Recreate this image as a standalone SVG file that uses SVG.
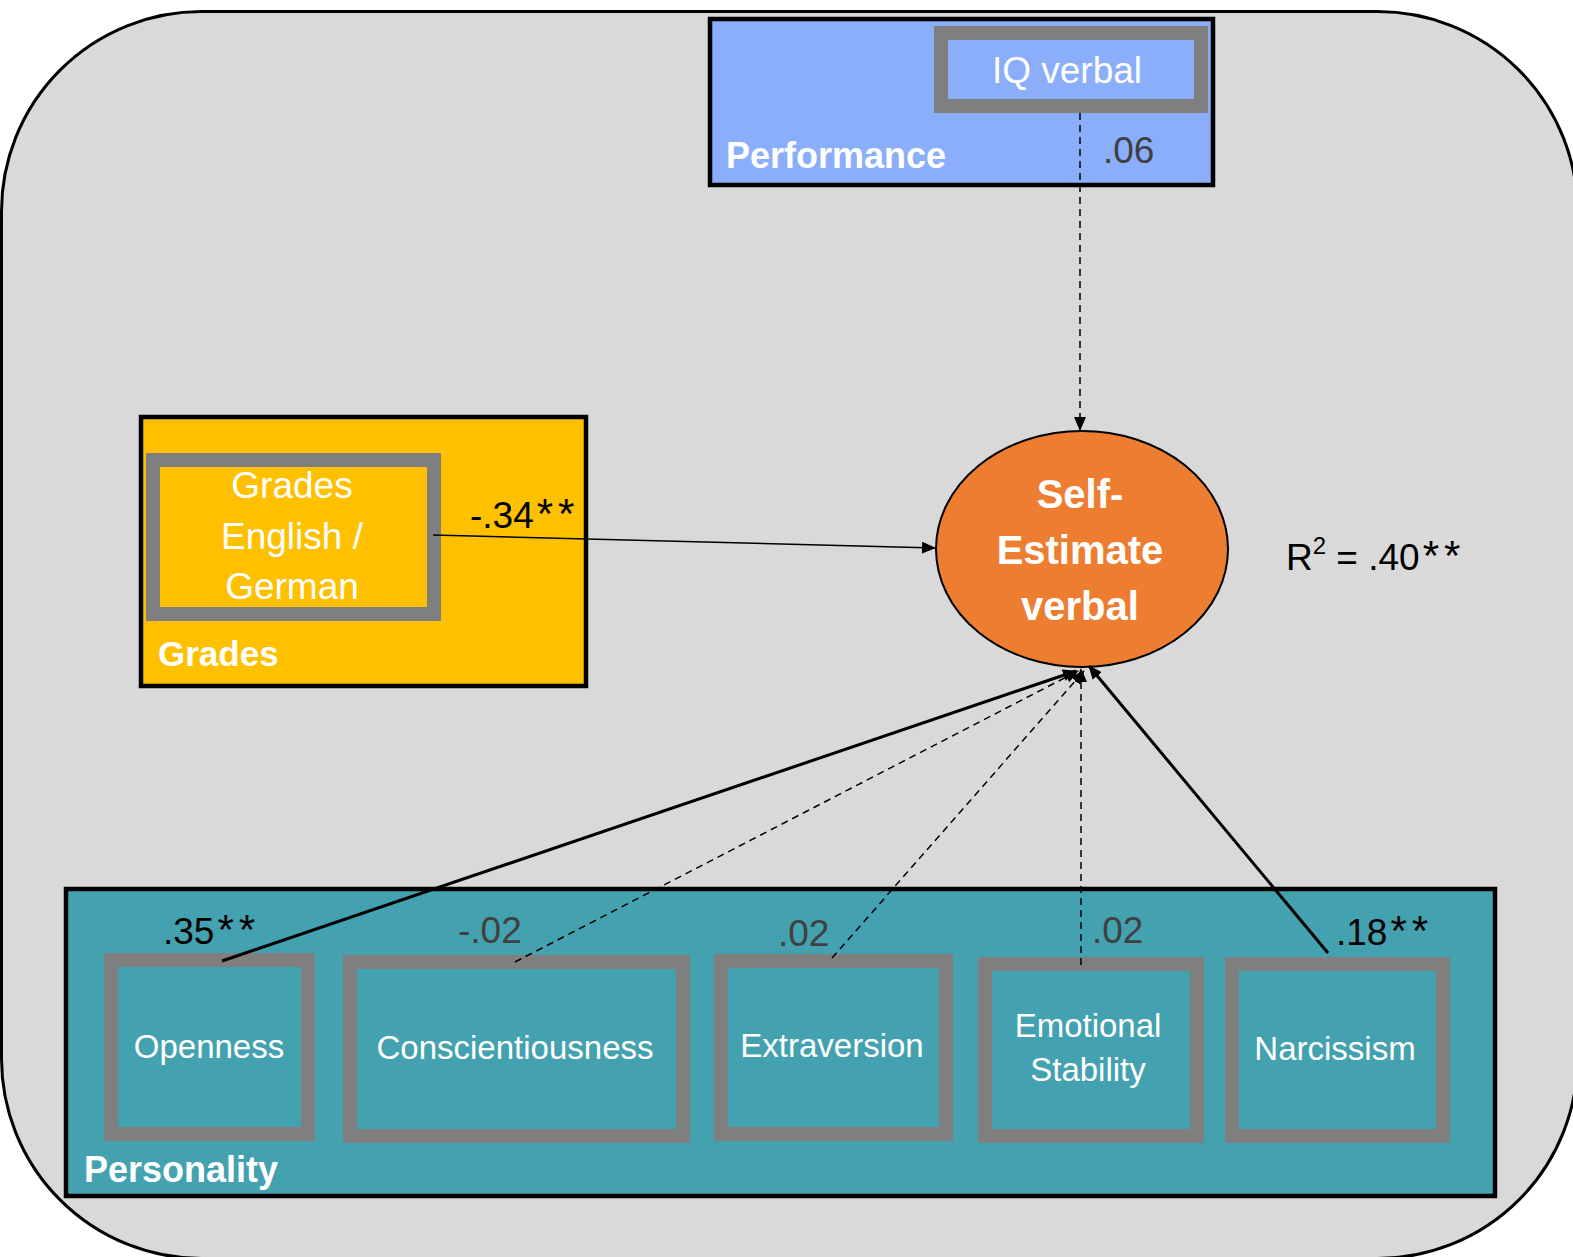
<svg xmlns="http://www.w3.org/2000/svg" width="1573" height="1257" viewBox="0 0 1573 1257">
<defs>
<style>
.frame{fill:#d9d9d9;stroke:#000;stroke-width:3}
.grp{stroke:#000;stroke-width:4.5}
.var{stroke:#7f7f7f;stroke-width:14}
.t{font-family:"Liberation Sans",Arial,sans-serif;fill:#fff;text-anchor:middle}
.glab{font-family:"Liberation Sans",Arial,sans-serif;font-weight:bold;fill:#fff}
.coef{font-family:"Liberation Sans",Arial,sans-serif;font-size:37px}
.ast{font-size:42px;letter-spacing:5px}
.dark{fill:#404040}
.blk{fill:#000}
.c{fill:none;stroke:#000}
.thin{stroke-width:1.5}
.thick{stroke-width:3}
.dash{stroke-dasharray:7 5}
</style>
<marker id="ah" viewBox="0 0 14 12" refX="13" refY="6" markerWidth="14" markerHeight="12" markerUnits="userSpaceOnUse" orient="auto">
<path d="M0,0 L14,6 L0,12 Z" fill="#000"/>
</marker>
</defs>
<rect width="1573" height="1257" fill="#fff"/>
<rect class="frame" x="1.5" y="11.5" width="1576" height="1247" rx="200" ry="200"/>

<g id="performance">
<rect class="grp" x="710" y="19" width="503" height="166" fill="#8aaefa"/>
<text class="glab" x="726" y="168" font-size="36">Performance</text>
</g>
<g id="iq-verbal">
<rect class="var" x="941" y="33" width="260" height="73" fill="#8aaefa"/>
<text class="t" x="1067" y="83" font-size="37">IQ verbal</text>
</g>

<g id="grades">
<rect class="grp" x="141" y="417" width="445" height="269" fill="#ffc000"/>
<text class="glab" x="158" y="666" font-size="35">Grades</text>
</g>
<g id="grades-english-german">
<rect class="var" x="153" y="460" width="281" height="154" fill="#ffc000"/>
<text class="t" x="292" y="498" font-size="37">Grades</text>
<text class="t" x="292" y="549" font-size="37">English /</text>
<text class="t" x="292" y="599" font-size="37">German</text>
</g>

<g id="personality">
<rect class="grp" x="66" y="889" width="1429" height="307" fill="#44a2b0"/>
<text class="glab" x="84" y="1182" font-size="36">Personality</text>
</g>
<g id="openness">
<rect class="var" x="111" y="960" width="197" height="174" fill="#44a2b0"/>
<text class="t" x="209" y="1058" font-size="33">Openness</text>
</g>
<g id="conscientiousness">
<rect class="var" x="350" y="962" width="333" height="174" fill="#44a2b0"/>
<text class="t" x="515" y="1059" font-size="33">Conscientiousness</text>
</g>
<g id="extraversion">
<rect class="var" x="721" y="961" width="225" height="173" fill="#44a2b0"/>
<text class="t" x="832" y="1057" font-size="33">Extraversion</text>
</g>
<g id="emotional-stability">
<rect class="var" x="985" y="964" width="212" height="172" fill="#44a2b0"/>
<text class="t" x="1088" y="1037" font-size="33">Emotional</text>
<text class="t" x="1088" y="1081" font-size="33">Stability</text>
</g>
<g id="narcissism">
<rect class="var" x="1232" y="964" width="211" height="172" fill="#44a2b0"/>
<text class="t" x="1335" y="1060" font-size="33">Narcissism</text>
</g>

<g id="self-estimate-verbal">
<ellipse cx="1082" cy="549" rx="146" ry="118" fill="#ed7d31" stroke="#000" stroke-width="2"/>
<text class="t" x="1080" y="508" font-size="40" font-weight="bold">Self-</text>
<text class="t" x="1080" y="564" font-size="40" font-weight="bold">Estimate</text>
<text class="t" x="1080" y="620" font-size="40" font-weight="bold">verbal</text>
</g>

<g id="connectors">
<line class="c thin dash" x1="1080" y1="113" x2="1080" y2="430" marker-end="url(#ah)"/>
<line class="c thin" x1="433" y1="535" x2="935" y2="548" marker-end="url(#ah)"/>
<line class="c thick" x1="222" y1="961" x2="1076" y2="671" marker-end="url(#ah)"/>
<line class="c thin dash" x1="515" y1="962" x2="1078" y2="671" marker-end="url(#ah)"/>
<line class="c thin dash" x1="832" y1="958" x2="1084" y2="671" marker-end="url(#ah)"/>
<line class="c thin dash" x1="1081" y1="965" x2="1081" y2="669" marker-end="url(#ah)"/>
<line class="c thick" x1="1328" y1="953" x2="1089" y2="666" marker-end="url(#ah)"/>
</g>

<g id="labels">
<text class="coef dark" x="1103" y="163">.06</text>
<text class="coef blk" x="470" y="528" font-size="38">-.34<tspan class="ast" dx="3">**</tspan></text>
<text class="coef blk" x="1286" y="570" font-size="39">R<tspan font-size="24" dy="-16">2</tspan><tspan dy="16"> = .40</tspan><tspan class="ast" dx="3">**</tspan></text>
<text class="coef blk" x="163" y="944">.35<tspan class="ast" dx="3">**</tspan></text>
<text class="coef dark" x="458" y="943">-.02</text>
<text class="coef dark" x="778" y="946">.02</text>
<text class="coef dark" x="1092" y="943">.02</text>
<text class="coef blk" x="1336" y="945">.18<tspan class="ast" dx="3">**</tspan></text>
</g>
</svg>
